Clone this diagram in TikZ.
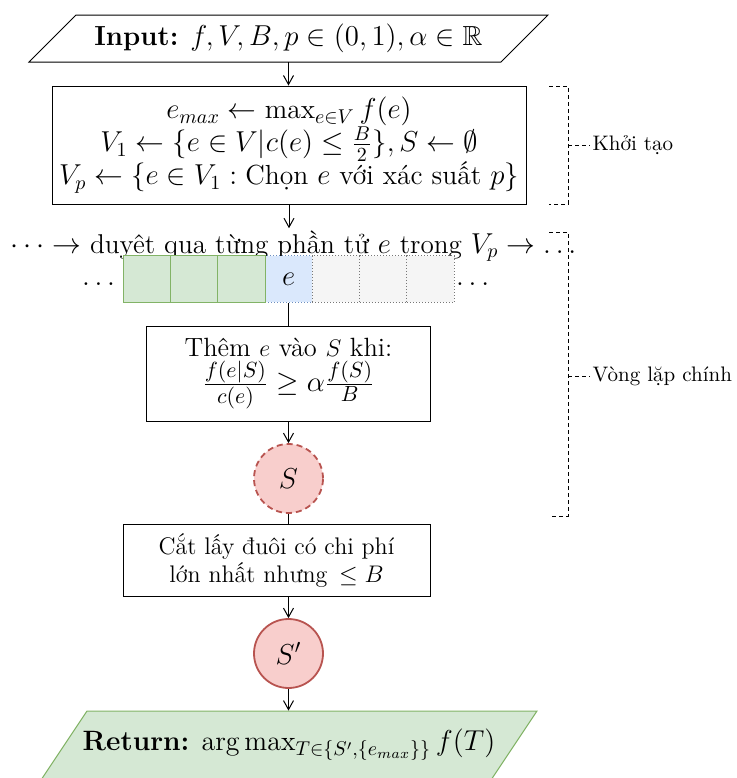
\documentclass[tikz,border=0pt]{standalone}
\usepackage{amsmath,amssymb}
\usepackage{fontspec}
\usetikzlibrary{arrows.meta,calc}
\definecolor{gfill}{HTML}{D5E8D4}
\definecolor{gline}{HTML}{82B366}
\definecolor{bfill}{HTML}{DAE8FC}
\definecolor{bline}{HTML}{6C8EBF}
\definecolor{kfill}{HTML}{F5F5F5}
\definecolor{kline}{HTML}{777777}
\definecolor{rfill}{HTML}{F8CECC}
\definecolor{rline}{HTML}{B85450}
\tikzset{
 box/.style={draw, line width=0.5pt, align=center, inner sep=2pt},
 cell/.style={minimum width=23.65pt, minimum height=23.25pt, inner sep=0pt, line width=0.5pt},
 gcell/.style={cell, draw=gline, fill=gfill},
 bcell/.style={cell, draw=bline, fill=bfill, densely dotted},
 kcell/.style={cell, draw=kline, fill=kfill, densely dotted},
 setnode/.style={circle, minimum size=34.5pt, inner sep=0pt, fill=rfill, draw=rline, line width=0.9pt},
 arr/.style={-{Straight Barb[length=4.5pt,width=5pt]}, line width=0.5pt},
 brk/.style={dash pattern=on 2pt off 1.5pt, line width=0.5pt},
 lbl/.style={font=\fontsize{10.5}{12}\selectfont, anchor=west, inner sep=1pt},
}
\begin{document}
\begin{tikzpicture}[x=0.5pt,y=-0.5pt, font=\fontsize{13.8}{16.5}\selectfont]
\useasboundingbox (0,0) rectangle (736,778);

% Input
\draw[line width=0.5pt] (76,15) -- (548,15) -- (501,62) -- (29,62) -- cycle;
\node[minimum height=23.5pt, inner sep=0pt] (in) at (288.5,38.5)
  {\textbf{Input:} $f, V, B, p \in (0,1), \alpha \in \mathbb{R}$};

% Init box
\node[box, minimum width=237pt, minimum height=59pt] (init) at (289,145)
  {$e_{max} \leftarrow \max_{e\in V} f(e)$\\
   $V_1 \leftarrow \{e\in V | c(e) \leq \frac{B}{2}\}, S \leftarrow \emptyset$\\
   $V_p \leftarrow \{e \in V_1 : \text{Chọn } e \text{ với xác suất } p\}$};

% row text
\node[inner sep=1pt, font=\fontsize{13.6}{16}\selectfont] (row) at (296,246)
  {$\dots \rightarrow$ duyệt qua từng phần tử $e$ trong $V_p \rightarrow \dots$};

% cells
\node[bcell] (c4) at (288.7,279.2) {$e$};
\node[kcell] (c5) at (336,279.2) {};
\node[kcell] (c6) at (383.2,279.2) {};
\node[kcell] (c7) at (430.5,279.2) {};
\node[gcell] (c1) at (147,279.2) {};
\node[gcell] (c2) at (194.2,279.2) {};
\node[gcell] (c3) at (241.5,279.2) {};
\node (dl) at (101,284) {$\dots$};
\node (dr) at (475,284) {$\dots$};

% loop box
\node[box, minimum width=142pt, minimum height=47.5pt] (loop) at (288.5,373.5)
  {\fontsize{13.2}{15}\selectfont Thêm $e$ vào $S$ khi:\\[1pt]
   \fontsize{15.5}{17}\selectfont $\frac{f(e|S)}{c(e)} \geq \alpha \frac{f(S)}{B}$};

% S
\node[setnode, dashed, dash pattern=on 3pt off 2pt] (S) at (288.5,478.5) {$S$};

% cut box
\node[box, minimum width=153.5pt, minimum height=36pt, font=\fontsize{12}{14}\selectfont] (cut) at (276.5,560)
  {Cắt lấy đuôi có chi phí\\ lớn nhất nhưng \,$\leq B$};

% S'
\node[setnode] (Sp) at (288.5,653.5) {$S'$};

% Return
\fill[gfill] (87,711) -- (537,711) -- (491,780) -- (41,780) -- cycle;
\draw[gline, line width=0.5pt] (41,780) -- (87,711) -- (537,711) -- (491,780);
\node[minimum height=34pt, inner sep=0pt, font=\fontsize{14}{16.5}\selectfont] (ret) at (289,745)
  {\textbf{Return:} $\arg\max_{T\in\{S', \{e_{max}\}\}} f(T)$};

% connectors
\draw[arr] (in.south) -- (init.north -| in.south);
\draw[arr] (init.south) -- (row.north -| init.south);
\draw[line width=0.5pt] (c4.south) -- (loop.north -| c4.south);
\draw[arr] (loop.south) -- (S.north);
\draw[line width=0.5pt] (S.south) -- (cut.north -| S.south);
\draw[arr] (cut.south -| Sp.north) -- (Sp.north);
\draw[arr] (Sp.south) -- (ret.north -| Sp.south);

% brackets
\coordinate (b1t) at (549,86);
\coordinate (b1b) at (549,204);
\draw[brk] (b1t) -- (568,86) -- (568,204) -- (b1b);
\draw[brk] (568,145) -- (590,145) node[lbl] (k1) {Khởi tạo};
\coordinate (b2t) at (549,232);
\coordinate (b2b) at (549,516);
\draw[brk] (b2t) -- (568,232) -- (568,516) -- (b2b);
\draw[brk] (568,376) -- (590,376) node[lbl] (k2) {Vòng lặp chính};
\end{tikzpicture}
\end{document}
